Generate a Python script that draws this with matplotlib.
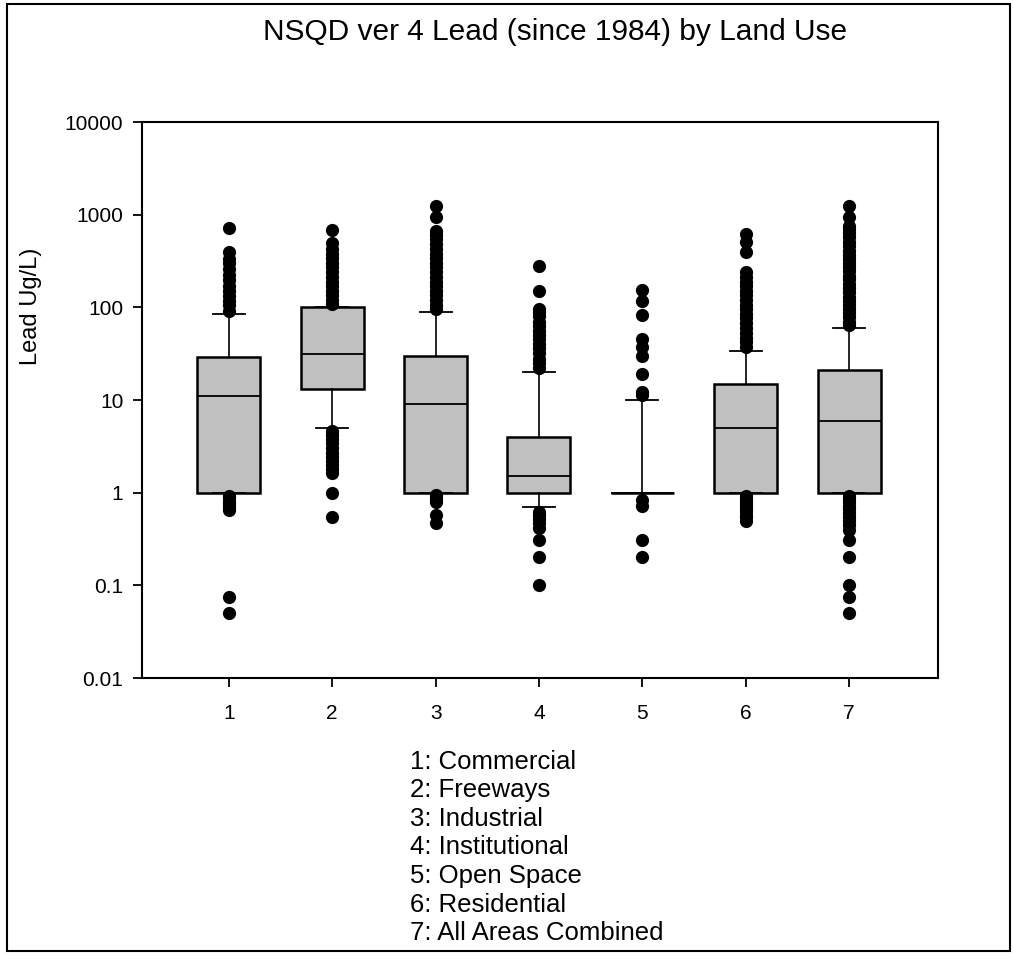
import matplotlib
matplotlib.use("Agg")
import matplotlib.pyplot as plt
from matplotlib.patches import Rectangle

plt.rcParams['font.family'] = ['Liberation Sans', 'DejaVu Sans']

# box summaries (ug/L)
groups = [1, 2, 3, 4, 5, 6, 7]
q1 = [1, 13, 1, 1, 1, 1, 1]
med = [11, 31, 9, 1.5, 1, 5, 6]
q3 = [29, 100, 30, 4, 1, 15, 21]
whislo = [1, 5, 1, 0.7, 1, 1, 1]
whishi = [84, 100, 90, 20, 10, 34, 60]

# outliers (dense columns approximated by overlapping points)
fliers_1 = [0.05, 0.075, 0.65, 0.7, 0.75, 0.8, 0.87, 0.93,
            92, 105, 118, 132, 150, 170, 195, 225, 260, 300, 330, 400, 720]
fliers_2 = [0.55, 1.0, 1.65, 1.8, 2.0, 2.2, 2.4, 2.7, 3.0, 3.4, 3.8, 4.2, 4.6,
            108, 120, 135, 150, 170, 190, 215, 240, 270, 300, 340, 380, 430, 500, 680]
fliers_3 = [0.47, 0.58, 0.8, 0.85, 0.9, 0.95,
            95, 105, 120, 135, 150, 170, 190, 215, 240, 270, 300, 340, 380,
            430, 480, 540, 600, 670, 950, 1250]
fliers_4 = [0.1, 0.2, 0.31, 0.42, 0.47, 0.52, 0.57, 0.62,
            22, 25, 28, 32, 36, 40, 45, 50, 56, 63, 70, 80, 90, 96, 150, 280]
fliers_5 = [0.2, 0.31, 0.72, 0.84,
            11.4, 12.3, 19, 30, 37, 45, 83, 118, 155]
fliers_6 = [0.5, 0.54, 0.58, 0.63, 0.68, 0.74, 0.8, 0.86, 0.93,
            37, 42, 47, 53, 60, 68, 76, 85, 95, 105, 120, 135, 150, 170,
            190, 215, 240, 400, 510, 620]
fliers_7 = [0.05, 0.075, 0.1, 0.2, 0.31, 0.4, 0.45, 0.5, 0.55, 0.6, 0.66,
            0.72, 0.79, 0.86, 0.93,
            64, 70, 78, 86, 95, 105, 118, 130, 145, 160, 180, 200, 220, 245,
            270, 300, 335, 370, 410, 460, 510, 570, 630, 700, 760, 950, 1250]
fliers = [fliers_1, fliers_2, fliers_3, fliers_4, fliers_5, fliers_6, fliers_7]

ytick_vals = [0.01, 0.1, 1, 10, 100, 1000, 10000]
ytick_labels = ["0.01", "0.1", "1", "10", "100", "1000", "10000"]

land_uses = ["1: Commercial", "2: Freeways", "3: Industrial", "4: Institutional",
             "5: Open Space", "6: Residential", "7: All Areas Combined"]

W, H = 1013, 959
fig = plt.figure(figsize=(W / 100, H / 100), dpi=100)
ax = fig.add_axes([142 / W, 1 - 678 / H, 796 / W, 556 / H])

stats = []
for i in range(len(groups)):
    stats.append(dict(q1=q1[i], med=med[i], q3=q3[i],
                      whislo=whislo[i], whishi=whishi[i], fliers=fliers[i]))

ax.bxp(stats, positions=groups, widths=0.61, capwidths=0.31, patch_artist=True,
       boxprops=dict(facecolor='#c0c0c0', edgecolor='black', linewidth=1.8),
       medianprops=dict(color='black', linewidth=1.3),
       whiskerprops=dict(color='black', linewidth=1.2),
       capprops=dict(color='black', linewidth=1.3),
       flierprops=dict(marker='o', markerfacecolor='black', markeredgecolor='black',
                       markersize=9.5, markeredgewidth=0))

ax.set_yscale('log')
ax.set_ylim(0.01, 10000)
ax.set_xlim(0.16, 7.86)
ax.set_yticks(ytick_vals)
ax.set_yticklabels(ytick_labels)
ax.minorticks_off()
ax.set_xticks(groups)
ax.set_xticklabels([str(g) for g in groups])
ax.tick_params(axis='both', direction='out', length=6.5, width=1.3,
               labelsize=15, colors='black')
ax.tick_params(axis='y', pad=7)
ax.tick_params(axis='x', pad=12)
for s in ax.spines.values():
    s.set_linewidth(1.5)

fig.text(555 / W, 1 - 32 / H, "NSQD ver 4 Lead (since 1984) by Land Use",
         ha='center', va='center', fontsize=21.5)
fig.text(31 / W, 1 - 306 / H, "Lead Ug/L)", rotation=90,
         ha='center', va='center', fontsize=17)

for i, name in enumerate(land_uses):
    fig.text(410 / W, 1 - (769 + 28.5 * i) / H, name,
             ha='left', va='baseline', fontsize=18.5)

fig.patches.append(Rectangle((7 / W, 1 - 951 / H), 1003 / W, 947 / H,
                             transform=fig.transFigure, fill=False,
                             edgecolor='black', linewidth=1.5))

fig.savefig("out.png", dpi=100)
